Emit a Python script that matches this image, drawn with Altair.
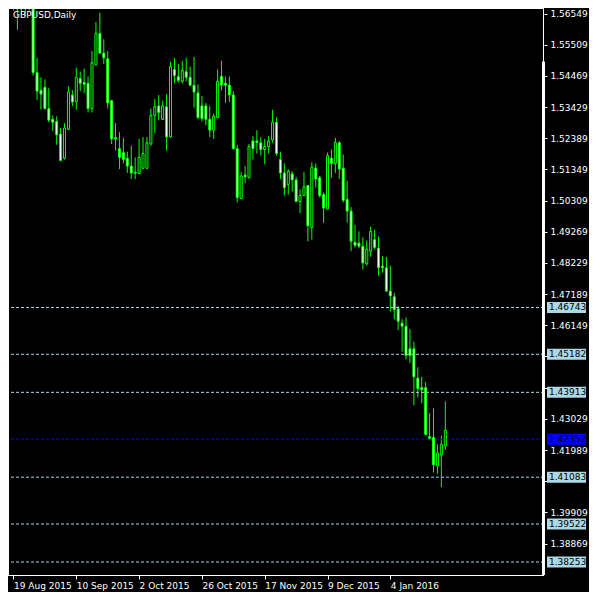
import altair as alt
import pandas as pd

symbol_title = "GBPUSD,Daily"

start_date = "2015-08-19"
end_date = "2016-01-22"
holidays = ["2015-12-25", "2016-01-01"]

opens = [1.5680, 1.5705, 1.5670, 1.5690, 1.5700, 1.5680, 1.5458, 1.5399, 1.5409, 1.5338,
         1.5302, 1.5295, 1.5253, 1.5172, 1.5269, 1.5383, 1.5360, 1.5438, 1.5425, 1.5422,
         1.5338, 1.5484, 1.5588, 1.5523, 1.5504, 1.5364, 1.5241, 1.5204, 1.5191, 1.5172,
         1.5146, 1.5126, 1.5121, 1.5139, 1.5139, 1.5220, 1.5315, 1.5347, 1.5302, 1.5344,
         1.5243, 1.5468, 1.5445, 1.5429, 1.5461, 1.5442, 1.5416, 1.5390, 1.5347, 1.5347,
         1.5302, 1.5266, 1.5308, 1.5445, 1.5422, 1.5416, 1.5383, 1.5204, 1.5038, 1.5116,
         1.5107, 1.5230, 1.5230, 1.5224, 1.5201, 1.5211, 1.5233, 1.5292, 1.5168, 1.5123,
         1.5084, 1.5120, 1.5100, 1.5028, 1.5048, 1.5081, 1.4941, 1.5139, 1.5107, 1.5051,
         1.5003, 1.5172, 1.5155, 1.5224, 1.5139, 1.5035, 1.4996, 1.4892, 1.4889, 1.4879,
         1.4820, 1.4862, 1.4901, 1.4872, 1.4812, 1.4807, 1.4729, 1.4710, 1.4670, 1.4622,
         1.4612, 1.4537, 1.4537, 1.4439, 1.4407, 1.4407, 1.4244, 1.4241, 1.4146, 1.4182,
         1.4212]
highs = [1.5730, 1.5725, 1.5712, 1.5800, 1.5745, 1.5695, 1.5507, 1.5442, 1.5435, 1.5406,
         1.5315, 1.5312, 1.5273, 1.5289, 1.5412, 1.5399, 1.5474, 1.5461, 1.5471, 1.5445,
         1.5530, 1.5627, 1.5657, 1.5569, 1.5530, 1.5367, 1.5289, 1.5259, 1.5240, 1.5194,
         1.5214, 1.5175, 1.5237, 1.5243, 1.5243, 1.5338, 1.5370, 1.5383, 1.5364, 1.5386,
         1.5494, 1.5507, 1.5487, 1.5497, 1.5507, 1.5478, 1.5510, 1.5419, 1.5380, 1.5357,
         1.5347, 1.5321, 1.5468, 1.5497, 1.5445, 1.5445, 1.5396, 1.5217, 1.5126, 1.5146,
         1.5220, 1.5246, 1.5266, 1.5243, 1.5237, 1.5246, 1.5334, 1.5308, 1.5194, 1.5155,
         1.5136, 1.5129, 1.5110, 1.5068, 1.5126, 1.5082, 1.5159, 1.5155, 1.5113, 1.5058,
         1.5191, 1.5201, 1.5240, 1.5230, 1.5185, 1.5097, 1.5009, 1.4950, 1.4928, 1.4908,
         1.4898, 1.4944, 1.4934, 1.4911, 1.4846, 1.4843, 1.4814, 1.4723, 1.4680, 1.4635,
         1.4641, 1.4602, 1.4560, 1.4475, 1.4443, 1.4426, 1.4322, 1.4338, 1.4218, 1.4247,
         1.4361]
lows = [1.5665, 1.5601, 1.5650, 1.5647, 1.5665, 1.5448, 1.5367, 1.5334, 1.5334, 1.5292,
        1.5263, 1.5217, 1.5162, 1.5168, 1.5266, 1.5347, 1.5334, 1.5396, 1.5390, 1.5325,
        1.5325, 1.5481, 1.5520, 1.5487, 1.5338, 1.5220, 1.5198, 1.5136, 1.5155, 1.5123,
        1.5103, 1.5103, 1.5120, 1.5136, 1.5136, 1.5214, 1.5256, 1.5299, 1.5300, 1.5198,
        1.5240, 1.5422, 1.5425, 1.5422, 1.5429, 1.5412, 1.5341, 1.5302, 1.5295, 1.5282,
        1.5243, 1.5237, 1.5305, 1.5399, 1.5357, 1.5360, 1.5202, 1.5025, 1.5036, 1.5090,
        1.5105, 1.5168, 1.5188, 1.5181, 1.5152, 1.5188, 1.5224, 1.5181, 1.5103, 1.5048,
        1.5051, 1.5061, 1.5025, 1.4989, 1.5045, 1.4895, 1.4901, 1.5074, 1.5041, 1.4957,
        1.5000, 1.5107, 1.5123, 1.5103, 1.5025, 1.4957, 1.4862, 1.4875, 1.4872, 1.4801,
        1.4814, 1.4843, 1.4869, 1.4781, 1.4791, 1.4726, 1.4661, 1.4635, 1.4599, 1.4527,
        1.4501, 1.4488, 1.4348, 1.4374, 1.4355, 1.4247, 1.4234, 1.4124, 1.4120, 1.4075,
        1.4199]
closes = [1.5705, 1.5670, 1.5690, 1.5700, 1.5680, 1.5458, 1.5396, 1.5386, 1.5338, 1.5299,
          1.5292, 1.5250, 1.5165, 1.5273, 1.5393, 1.5360, 1.5442, 1.5422, 1.5419, 1.5338,
          1.5491, 1.5588, 1.5523, 1.5507, 1.5357, 1.5237, 1.5236, 1.5175, 1.5168, 1.5146,
          1.5123, 1.5122, 1.5175, 1.5188, 1.5224, 1.5315, 1.5344, 1.5325, 1.5347, 1.5243,
          1.5478, 1.5448, 1.5432, 1.5465, 1.5442, 1.5416, 1.5393, 1.5308, 1.5305, 1.5302,
          1.5266, 1.5312, 1.5429, 1.5416, 1.5416, 1.5383, 1.5204, 1.5041, 1.5113, 1.5110,
          1.5211, 1.5204, 1.5224, 1.5201, 1.5211, 1.5230, 1.5292, 1.5188, 1.5123, 1.5074,
          1.5129, 1.5100, 1.5028, 1.5048, 1.5077, 1.4947, 1.5142, 1.5103, 1.5048, 1.5006,
          1.5181, 1.5155, 1.5224, 1.5136, 1.5032, 1.4996, 1.4895, 1.4882, 1.4879, 1.4823,
          1.4869, 1.4928, 1.4875, 1.4807, 1.4807, 1.4729, 1.4713, 1.4667, 1.4628, 1.4612,
          1.4514, 1.4514, 1.4443, 1.4404, 1.4400, 1.4251, 1.4238, 1.4150, 1.4189, 1.4218,
          1.4264]

# pivot levels shown as dashed lines with price boxes
pivot_levels = [1.46743, 1.45182, 1.43913, 1.42352, 1.41083, 1.39522, 1.38253]
pivot_kinds = ["r", "r", "r", "p", "s", "s", "s"]

# right price axis ticks
y_ticks = [1.56549, 1.55509, 1.54469, 1.53429, 1.52389, 1.51349, 1.50309, 1.49269,
           1.48229, 1.47189, 1.46149, 1.45109, 1.44069, 1.43029, 1.41989, 1.40949,
           1.39909, 1.38869]
# tick labels covered by the pivot price boxes
y_hidden = [1.45109, 1.44069, 1.40949]

# bottom time axis ticks (bar index -> label)
x_tick_idx = [0, 16, 32, 48, 64, 80, 96]
x_tick_labels = ["19 Aug 2015", "10 Sep 2015", "2 Oct 2015", "26 Oct 2015",
                 "17 Nov 2015", "9 Dec 2015", "4 Jan 2016"]

scroll_top = [1.5495]

# ---------------------------------------------------------------
dates = [d for d in pd.bdate_range(start_date, end_date) if d.strftime("%Y-%m-%d") not in holidays]
n = len(opens)
df = pd.DataFrame({
    "i": list(range(n)),
    "date": [d.strftime("%Y-%m-%d") for d in dates[:n]],
    "open": opens, "high": highs, "low": lows, "close": closes,
})
df["btop"] = df[["open", "close"]].max(axis=1)
df["bbot"] = df[["open", "close"]].min(axis=1)
df["inner"] = ["flat" if abs(c - o) < 0.0005 else ("bull" if c > o else "bear")
               for o, c in zip(df["open"], df["close"])]

piv = pd.DataFrame({"level": pivot_levels, "kind": pivot_kinds})
piv["label"] = [f"{v:.5f}" for v in pivot_levels]

W, H = 536, 566
FONT = "DejaVu Sans"
FS = 9
LIME = "#00ff00"
LBLUE = "#add8e6"
BLUE = "#0000ff"

x_label_expr = "".join(f"datum.value == {v} ? '{t}' : " for v, t in zip(x_tick_idx, x_tick_labels)) + "''"
y_label_expr = ("(" + " || ".join(f"abs(datum.value - {v}) < 1e-7" for v in y_hidden) +
                ") ? '' : format(datum.value, '.5f')")

xscale = alt.Scale(domain=[-0.125, 133.875], nice=False, zero=False)
yscale = alt.Scale(domain=[1.3782, 1.5670], nice=False, zero=False)

x_axis = alt.Axis(values=x_tick_idx, labelExpr=x_label_expr, tickSize=4, tickColor="white",
                  labelColor="white", labelFont=FONT, labelFontSize=FS, labelAlign="left",
                  labelBaseline="top", labelPadding=2, labelFlush=False, labelOverlap=False,
                  domain=False, grid=False, title=None, orient="bottom")
y_axis = alt.Axis(values=y_ticks, labelExpr=y_label_expr, tickSize=3, tickColor="white",
                  labelColor="white", labelFont=FONT, labelFontSize=FS, labelPadding=3,
                  labelOverlap=False, domain=False, grid=False, title=None, orient="right")

def X(field):
    return alt.X(field, scale=xscale, axis=x_axis, title=None)

def Y(field):
    return alt.Y(field, scale=yscale, axis=y_axis, title=None)

base = alt.Chart(df)

wicks = base.mark_rule(color=LIME, strokeWidth=1, clip=True).encode(
    x=X("i:Q"),
    y=Y("low:Q"),
    y2="high:Q",
)

# outer body: lime block 3px wide
outer = base.mark_bar(size=2, color=LIME, stroke=LIME, strokeWidth=1, opacity=1, clip=True).encode(
    x=X("i:Q"),
    y=Y("btop:Q"),
    y2="bbot:Q",
)

# inner body: 1px fill, white for bearish, black for bullish
inner = base.mark_bar(size=1, opacity=1, clip=True, yOffset=0.5, y2Offset=-0.5).encode(
    x=X("i:Q"),
    y=Y("btop:Q"),
    y2="bbot:Q",
    fill=alt.Fill("inner:N",
                  scale=alt.Scale(domain=["bull", "bear", "flat"], range=["#000000", "#ffffff", LIME]),
                  legend=None),
)

kind_color = alt.Color("kind:N", scale=alt.Scale(domain=["r", "p", "s"], range=[LBLUE, BLUE, LBLUE]),
                       legend=None)

pbase = alt.Chart(piv)
plines = pbase.mark_rule(strokeWidth=1, strokeDash=[3, 2], clip=True).encode(
    y=Y("level:Q"),
    color=kind_color,
)
pboxes = pbase.mark_tick(orient="horizontal", thickness=11, size=39, opacity=1, clip=False).encode(
    x=alt.value(W + 22.5),
    y=Y("level:Q"),
    color=kind_color,
)
ptext = pbase.mark_text(align="left", baseline="middle", font=FONT, fontSize=FS, color="black",
                        clip=False).encode(
    x=alt.value(W + 5),
    y=Y("level:Q"),
    text="label:N",
)

sdf = pd.DataFrame({"top": scroll_top})
scroll = alt.Chart(sdf).mark_rule(color="white", strokeWidth=3, clip=False).encode(
    x=alt.value(W - 0.5),
    y=Y("top:Q"),
    y2=alt.value(H),
)

tdf = pd.DataFrame({"t": [symbol_title]})
title = alt.Chart(tdf).mark_text(align="left", baseline="top", font=FONT, fontSize=FS,
                                 color="white").encode(
    x=alt.value(5), y=alt.value(2), text="t:N")

# white chart frame on half-pixel positions so it stays one pixel wide
fbase = alt.Chart(tdf)
frame_top = fbase.mark_rule(color="white", strokeWidth=1, clip=False).encode(
    x=alt.value(0), x2=alt.value(W), y=alt.value(-0.5))
frame_bottom = fbase.mark_rule(color="white", strokeWidth=1, clip=False).encode(
    x=alt.value(0), x2=alt.value(W), y=alt.value(H + 0.5))
frame_left = fbase.mark_rule(color="white", strokeWidth=1, clip=False).encode(
    x=alt.value(0.5), y=alt.value(-1), y2=alt.value(H + 1))
frame_right = fbase.mark_rule(color="white", strokeWidth=1, clip=False).encode(
    x=alt.value(W - 0.5), y=alt.value(-1), y2=alt.value(H + 1))

chart = alt.layer(wicks, plines, outer, inner, pboxes, ptext, scroll, title,
                  frame_top, frame_bottom, frame_left, frame_right).properties(
    width=W, height=H, background="black",
    padding={"left": 0, "top": 1, "right": 45, "bottom": 17},
    autosize=alt.AutoSizeParams(type="none"),
).configure_view(strokeWidth=0, fill="black")

chart.save("out.html", embed_options={"renderer": "svg", "actions": False})
